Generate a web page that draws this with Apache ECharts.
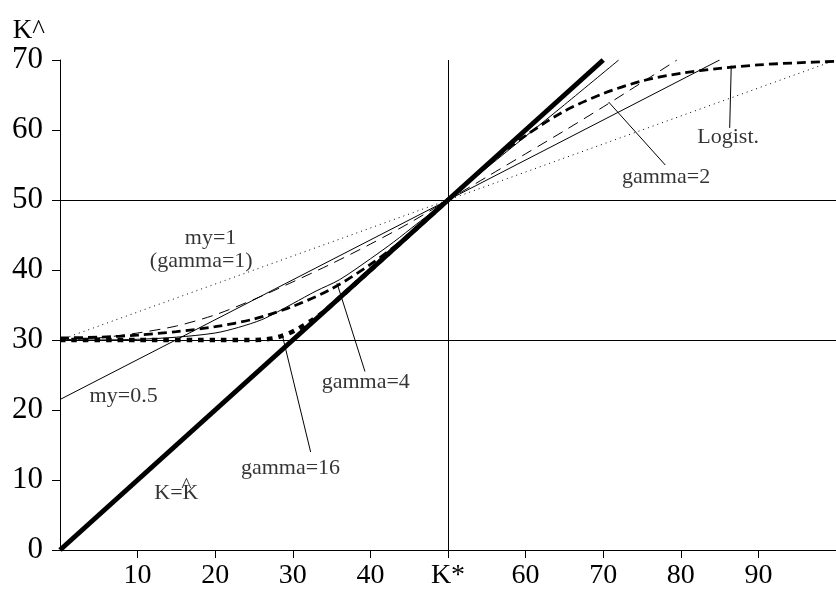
<!DOCTYPE html>
<html>
<head>
<meta charset="utf-8">
<script src="https://cdn.jsdelivr.net/npm/echarts@6/dist/echarts.min.js"></script>
<style>
  html, body { margin: 0; padding: 0; background: #fff; }
  #chart { width: 836px; height: 590px; }
</style>
</head>
<body>
<div id="chart"></div>
<script>
// Capital stock K (x) against the expected level K^ (y); K* = 50
const xTicks = [10, 20, 30, 40, 50, 60, 70, 80, 90];
const xTickNames = { 50: 'K*' };
const yTicks = [0, 10, 20, 30, 40, 50, 60, 70];
const kStar = 50;
const refLevels = [30, 50];

// K^ = K (45-degree line)
const diagX = [0, 70];
const diagY = [0, 70];

// my=1 (gamma=1), dotted straight line
const my1X = [0, 50, 100];
const my1Y = [30, 50, 70];

// my=0.5, thin straight line
const my05X = [0, 50, 85];
const my05Y = [21.5, 50, 70];

// gamma=2, thin dashed
const g2X = [0, 5, 10, 15, 20, 25, 30, 35, 40, 45, 50, 55, 60, 65, 70, 75, 79.5];
const g2Y = [30, 30.3, 31.0, 32.0, 33.6, 35.8, 38.3, 40.9, 43.7, 46.7, 50, 53.3, 56.6, 59.9, 63.3, 66.8, 70];

// gamma=4, thin solid curve
const g4X = [0, 5, 10, 15, 20, 23, 26, 28, 30, 33, 36, 40, 43, 46, 48, 50, 55, 60, 65, 72];
const g4Y = [30, 30, 30.1, 30.4, 31.0, 31.8, 32.9, 34.0, 35.2, 37.0, 38.6, 41.6, 44.0, 46.6, 48.3, 50, 54.6, 59.1, 63.6, 70];

// gamma=16, heavy dotted
const g16X = [0, 10, 20, 24, 26, 27.5, 28.5, 29.5, 30.5, 31.5, 32.5, 33.5, 34.5, 40, 50];
const g16Y = [30, 30, 30, 30, 30.05, 30.25, 30.55, 30.95, 31.5, 32.15, 32.85, 33.6, 34.5, 40, 50];

// Logistic, heavy dashed
const logX = [0, 5, 10, 15, 20, 25, 30, 35, 40, 45, 50, 55, 60, 65, 70, 75, 80, 85, 90, 95, 100];
const logY = [30.3, 30.4, 30.7, 31.2, 31.9, 33.0, 34.8, 37.3, 40.8, 45.0, 50, 55.0, 59.2, 62.7, 65.2, 67.0, 68.1, 68.8, 69.3, 69.6, 69.8];

// Text annotations (data coordinates)
const noteNames = ['my=1', '(gamma=1)', 'my=0.5', 'gamma=4', 'gamma=16', 'gamma=2', 'Logist.', 'K=K', '^'];
const noteX = [19.4, 18.2, 8.2, 39.4, 29.7, 78.1, 86.1, 15.0, 16.3];
const noteY = [44.6, 41.3, 21.9, 24.0, 11.7, 53.3, 59.0, 8.1, 9.14];

// Pointer lines from labels to curves: [x0, y0, x1, y1]
const pointers = [
  [35.7, 38.1, 39.3, 25.5],   // gamma=4
  [28.6, 30.9, 32.3, 14.0],   // gamma=16
  [70.7, 64.0, 78.0, 55.0],   // gamma=2
  [86.5, 69.2, 86.3, 60.3]    // Logist.
];

const zip = (xs, ys) => xs.map((x, i) => [x, ys[i]]);
const FONT = 'Liberation Serif';

const lineSeries = (name, xs, ys, style, extra) => Object.assign({
  name: name,
  type: 'line',
  data: zip(xs, ys),
  showSymbol: false,
  symbol: 'none',
  silent: true,
  animation: false,
  lineStyle: Object.assign({ color: '#000' }, style)
}, extra || {});

const series = [];

// reference lines at K^ = 30, 50 and K = K*
series.push({
  type: 'line',
  data: [],
  silent: true,
  animation: false,
  markLine: {
    silent: true,
    animation: false,
    symbol: ['none', 'none'],
    label: { show: false },
    lineStyle: { color: '#000', width: 1, type: 'solid' },
    data: refLevels.map(v => ({ yAxis: v })).concat([{ xAxis: kStar }])
  },
  z: 1
});

series.push(lineSeries('my=1', my1X, my1Y, { width: 1, type: [1, 4] }, { z: 2 }));
series.push(lineSeries('my=0.5', my05X, my05Y, { width: 1 }, { z: 2 }));
series.push(lineSeries('gamma=2', g2X, g2Y, { width: 1, type: [11, 7] }, { smooth: 0.3, z: 3 }));
series.push(lineSeries('gamma=4', g4X, g4Y, { width: 1 }, { smooth: 0.3, z: 3 }));
series.push(lineSeries('gamma=16', g16X, g16Y, { width: 4.5, type: [5.5, 6], cap: 'butt' }, { smooth: 0.25, z: 4 }));
series.push(lineSeries('Logist.', logX, logY, { width: 2.8, type: [9, 5], cap: 'butt' }, { smooth: 0.3, z: 4 }));
series.push(lineSeries('K=K^', diagX, diagY, { width: 5 }, { z: 6 }));

pointers.forEach((p, i) => {
  series.push(lineSeries('pointer' + i, [p[0], p[2]], [p[1], p[3]], { width: 1 }, { z: 5 }));
});

series.push({
  type: 'scatter',
  silent: true,
  animation: false,
  symbolSize: 0,
  z: 7,
  data: noteNames.map((n, i) => ({ name: n, value: [noteX[i], noteY[i]] })),
  label: {
    show: true,
    position: 'inside',
    formatter: '{b}',
    color: '#000',
    fontFamily: FONT,
    fontSize: 22
  }
});

const chart = echarts.init(document.getElementById('chart'), null, { renderer: 'canvas' });
chart.setOption({
  backgroundColor: '#fff',
  animation: false,
  grid: { left: 60, top: 60, width: 780, height: 490, containLabel: false },
  xAxis: {
    type: 'value',
    min: 0,
    max: 100,
    interval: 10,
    splitLine: { show: false },
    axisLine: { show: true, onZero: false, lineStyle: { color: '#000', width: 1 } },
    axisTick: { show: true, length: 8, customValues: xTicks, lineStyle: { color: '#000' } },
    axisLabel: {
      customValues: xTicks,
      margin: 12,
      color: '#000',
      fontFamily: FONT,
      fontSize: 28,
      formatter: v => xTickNames[v] || String(v)
    }
  },
  yAxis: {
    type: 'value',
    min: 0,
    max: 70,
    interval: 10,
    name: 'K^',
    nameLocation: 'end',
    nameGap: 10,
    nameTextStyle: { color: '#000', fontFamily: FONT, fontSize: 27, align: 'right', padding: [0, 15, 0, 0] },
    splitLine: { show: false },
    axisLine: { show: true, onZero: false, lineStyle: { color: '#000', width: 1 } },
    axisTick: { show: true, length: 8, lineStyle: { color: '#000' } },
    axisLabel: {
      customValues: yTicks,
      margin: 17,
      color: '#000',
      fontFamily: FONT,
      fontSize: 31
    }
  },
  series: series
});
</script>
</body>
</html>
